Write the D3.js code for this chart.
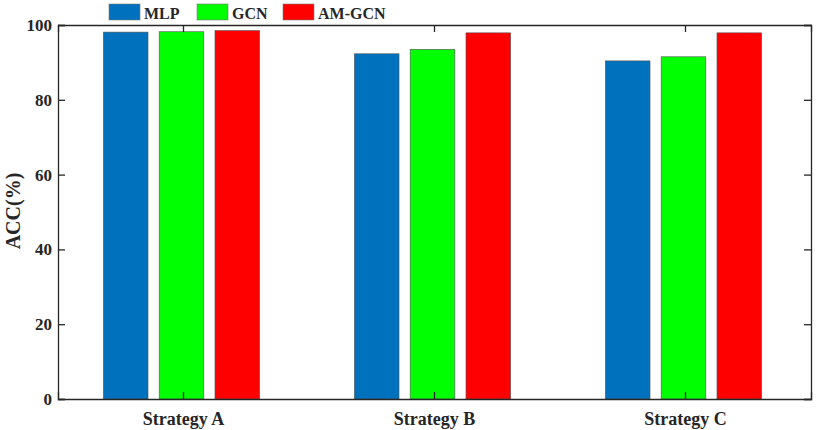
<!DOCTYPE html>
<html>
<head>
<meta charset="utf-8">
<script src="https://cdn.jsdelivr.net/npm/d3@7"></script>
<style>
  body { margin: 0; background: #fff; }
  text { font-family: "Liberation Serif", "DejaVu Serif", serif; font-weight: bold; fill: #262626; }
</style>
</head>
<body>
<div id="chart"></div>
<script>
const categories = ['Strategy A', 'Strategy B', 'Strategy C']
const seriesNames = ['MLP', 'GCN', 'AM-GCN']
const seriesColors = ['#0072BD', '#00FF00', '#FF0000']
const mlp = [98.1, 92.3, 90.4]
const gcn = [98.2, 93.5, 91.5]
const amgcn = [98.5, 97.9, 97.9]
const yTicks = [0, 20, 40, 60, 80, 100]

const seriesValues = [mlp, gcn, amgcn]

const width = 816, height = 430
const margin = {left: 58, right: 5, top: 25, bottom: 31}
const innerW = width - margin.left - margin.right
const innerH = height - margin.top - margin.bottom

let svg = d3.select('#chart').append('svg')
    .attr('width', width)
    .attr('height', height)

let g = svg.append('g').attr('transform', 'translate(' + margin.left + ',' + margin.top + ')')

let xScale = d3.scaleBand().domain(categories).range([0, innerW]).paddingInner(0).paddingOuter(0)
let yScale = d3.scaleLinear().domain([0, 100]).range([innerH, 0])

// bars inside each group, matlab style
let groupW = xScale.bandwidth() * 0.667
let xSub = d3.scaleBand().domain(seriesNames).range([0, groupW]).paddingInner(0.2).paddingOuter(0.1)

categories.forEach((c, i) => {
    let grp = g.append('g')
        .attr('transform', 'translate(' + (xScale(c) + (xScale.bandwidth() - groupW) / 2 - 2) + ',0)')
    seriesNames.forEach((s, j) => {
        let v = seriesValues[j][i]
        grp.append('rect')
            .attr('x', xSub(s))
            .attr('y', yScale(v))
            .attr('width', xSub.bandwidth())
            .attr('height', innerH - yScale(v))
            .attr('fill', seriesColors[j])
            .attr('stroke', '#555')
            .attr('stroke-width', 0.6)
    })
})

const tickLen = 7
let axisColor = '#262626'

// left axis
let yAxis = g.append('g').call(d3.axisLeft(yScale).tickValues(yTicks).tickSize(-tickLen).tickPadding(6))
// right axis (mirror)
let yAxisR = g.append('g').attr('transform', 'translate(' + innerW + ',0)')
    .call(d3.axisRight(yScale).tickValues(yTicks).tickSize(-tickLen).tickFormat(''))
// bottom axis
let xAxis = g.append('g').attr('transform', 'translate(0,' + innerH + ')')
    .call(d3.axisBottom(xScale).tickSize(-tickLen).tickPadding(13))
// top axis (mirror)
let xAxisT = g.append('g')
    .call(d3.axisTop(xScale).tickSize(-tickLen).tickFormat(''))

;[yAxis, yAxisR, xAxis, xAxisT].forEach(a => {
    a.selectAll('path').attr('stroke', axisColor).attr('stroke-width', 1.3)
    a.selectAll('line').attr('stroke', axisColor).attr('stroke-width', 1.3)
    a.selectAll('text').style('font-size', '17px').attr('fill', axisColor)
        .style('font-family', '"Liberation Serif", serif').style('font-weight', 'bold')
})
xAxis.selectAll('text').style('font-size', '18px')

g.append('text')
    .text('ACC(%)')
    .style('text-anchor', 'middle')
    .style('font-size', '20px')
    .attr('transform', 'translate(' + -38 + ',' + (innerH / 2 - 1) + '), rotate(270)')

// legend
let legend = svg.append('g').attr('transform', 'translate(109,4)')
const legendX = [0, 88, 174]
seriesNames.forEach((s, j) => {
    let item = legend.append('g').attr('transform', 'translate(' + legendX[j] + ',0)')
    item.append('rect')
        .attr('width', 31).attr('height', 16)
        .attr('fill', seriesColors[j])
        .attr('stroke', '#777').attr('stroke-width', 0.6)
    item.append('text')
        .text(s)
        .attr('x', 35).attr('y', 15)
        .style('font-size', '16px')
})
</script>
</body>
</html>
